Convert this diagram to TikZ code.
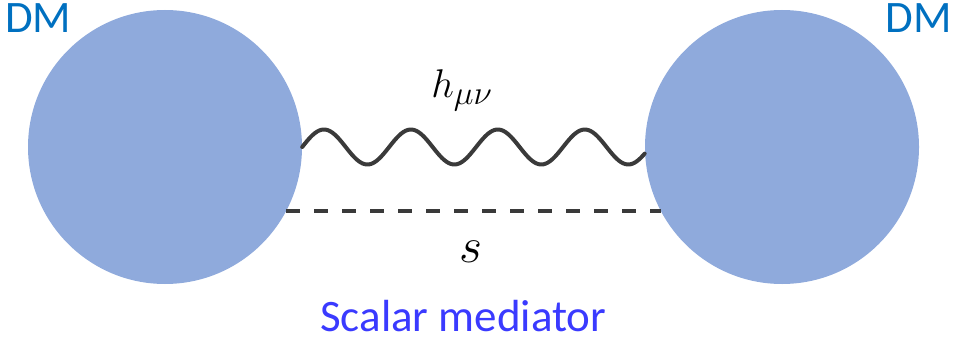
\documentclass[tikz,border=0pt]{standalone}
\usepackage{fontspec}
\newfontfamily\calibri{Carlito}
\usepackage{xcolor}
\definecolor{ballblue}{HTML}{8FAADC}
\definecolor{dmblue}{HTML}{0070C0}
\definecolor{medblue}{HTML}{3A3AFF}
\definecolor{linegray}{HTML}{3A3A3A}
\usepackage{tikz}
\usetikzlibrary{positioning, calc}
\usepackage{amsmath}

\begin{document}
\begin{tikzpicture}[x=1pt, y=-1pt,
    dmball/.style={circle, fill=ballblue, minimum size=274pt, inner sep=0pt},
    graviton/.style={line width=4pt, linegray, line cap=round, line join=round},
    scalar/.style={line width=4pt, linegray, dash pattern=on 14pt off 14pt},
    dmlabel/.style={font=\calibri\fontsize{45}{54}\selectfont, text=dmblue, inner sep=0pt}]
    \useasboundingbox (0,0) rectangle (957,342);
    % Dark matter blobs
    \node[dmball] (dmL) at (165,147) {};
    \node[dmball] (dmR) at (782,147) {};
    \node[dmlabel, anchor=base west] (labL) at (5,33) {DM};
    \node[dmlabel, anchor=base east] (labR) at (952,33) {DM};
    % Mediators
    \draw[graviton] let \p1=(dmL.east), \p2=(dmR.west) in
        plot[variable=\t, domain=0:1, samples=160, smooth]
        ({\x1+\t*(\x2-\x1)}, {\y1+17.5*sin(\t*360*3.94)});
    \draw[scalar] (dmL.-28) -- (dmR.-152);
    \node[font=\Huge, scale=1.61, inner sep=0pt, anchor=base west] (hmn) at (431,98) {$h_{\mu\nu}$};
    \node[font=\Huge, scale=2.0, inner sep=0pt, anchor=base west] (sname) at (459,262) {$s$};
    \node[font=\calibri\fontsize{45}{54}\selectfont, text=medblue, inner sep=0pt, text depth=0pt, anchor=base west] (title) at (320,331) {Scalar mediator};
\end{tikzpicture}
\end{document}
